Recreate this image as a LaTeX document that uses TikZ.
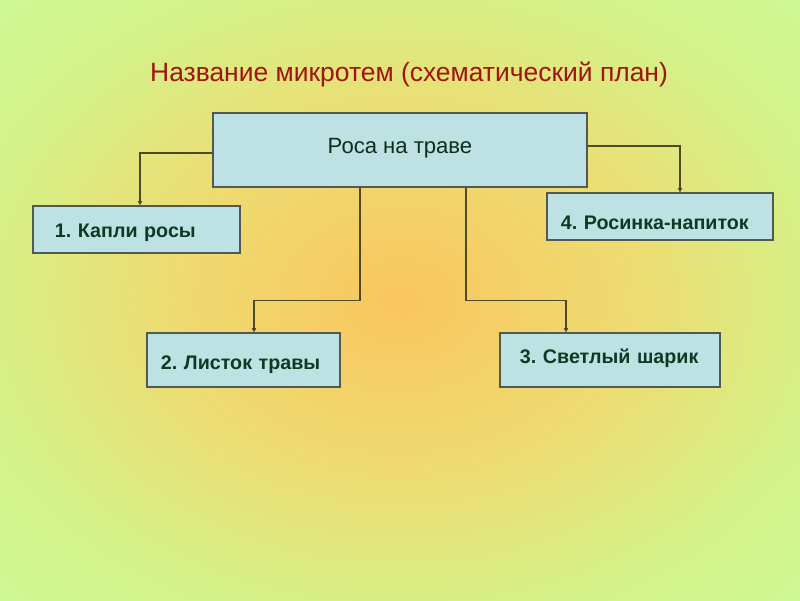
\documentclass[tikz,border=0pt]{standalone}
\usepackage{fontspec}
\setmainfont{Liberation Sans}
\usepackage{tikz}
\usetikzlibrary{arrows.meta, calc, positioning}
\frenchspacing

\definecolor{bgC}{HTML}{FAC55E}
\definecolor{bgA}{HTML}{F5CF66}
\definecolor{bgB}{HTML}{EDDC72}
\definecolor{bgD}{HTML}{DDEA80}
\definecolor{bgE}{HTML}{D4F28A}
\definecolor{bgF}{HTML}{CEF893}
\definecolor{boxfill}{HTML}{BEE2E4}
\definecolor{boxline}{HTML}{505A52}
\definecolor{wirecol}{HTML}{4B4B2A}
\definecolor{titlered}{HTML}{A01414}
\definecolor{inkgreen}{HTML}{113822}

\pgfdeclareradialshading{glow}{\pgfpoint{0bp}{0bp}}{%
  color(0bp)=(bgC); color(12bp)=(bgA); color(30bp)=(bgB);
  color(45bp)=(bgD); color(55bp)=(bgE); color(71bp)=(bgF)}

% move the ink of a label without changing its box
\newcommand\nudge[2]{\raisebox{#1}[\height][\depth]{#2}}

\begin{document}
\begin{tikzpicture}[
  x=0.025cm, y=-0.025cm,
  box/.style  = {draw=boxline, fill=boxfill, line width=0.9pt,
                 rectangle, inner ysep=0pt},
  topic/.style= {box, font=\fontsize{15.7pt}{18pt}\selectfont,
                 text=inkgreen!80!black, align=center},
  sub/.style  = {box, font=\fontsize{14pt}{16pt}\selectfont\bfseries,
                 text=inkgreen, align=left},
  wire/.style = {line width=0.9pt, wirecol},
  tip/.style  = {-{Triangle[length=3pt, width=3pt]}},
]

% background glow, stretched over the whole page
\useasboundingbox (0,0) rectangle (800,600);
\begin{scope}
  \clip (0,0) rectangle (800,600);
  \node[inner sep=0pt] at (400,300) (bg)
    {\scalebox{5.648}[4.236]{\pgfuseshading{glow}}};
\end{scope}

% title
\node[text=titlered, font=\fontsize{18.8pt}{21pt}\selectfont] at (409,74) (title)
  {Название микротем (схематический план)};

% ── BOXES ───────────────────────────────────────────────────────────────────
\node[topic, minimum width=9.35cm, minimum height=1.85cm] at (400,150) (main)
  {\nudge{1.4pt}{Роса на траве}};

\node[sub, inner xsep=0.55cm, text width=4.075cm, minimum height=1.175cm]
  at (136.5,229.5) (b1) {\nudge{-2.1pt}{1. Капли росы}};
\node[sub, inner xsep=0.35cm, text width=4.125cm, minimum height=1.35cm]
  at (243.5,360) (b2) {\nudge{-3.5pt}{2. Листок травы}};
\node[sub, inner xsep=0.5cm, text width=4.5cm, minimum height=1.35cm]
  at (610,360) (b3) {\nudge{1.4pt}{3. Светлый шарик}};
\node[sub, inner xsep=0.35cm, text width=4.95cm, minimum height=1.175cm]
  at (660,216.5) (b4) {\nudge{-4.2pt}{4. Росинка-напиток}};

% ── CONNECTORS ──────────────────────────────────────────────────────────────
\draw[wire, tip] ($(main.west)+(0,3)$) -| ($(b1.north)+(3.5,0)$);
\draw[wire, tip] ($(main.east)+(0,-4)$) -| ($(b4.north)+(20,0)$);
\draw[wire, tip] ($(main.south)+(-40,0)$) -- ++(0,113) -| ($(b2.north)+(10.5,0)$);
\draw[wire, tip] ($(main.south)+(66,0)$) -- ++(0,113) -| ($(b3.north)+(-44,0)$);

\end{tikzpicture}
\end{document}
